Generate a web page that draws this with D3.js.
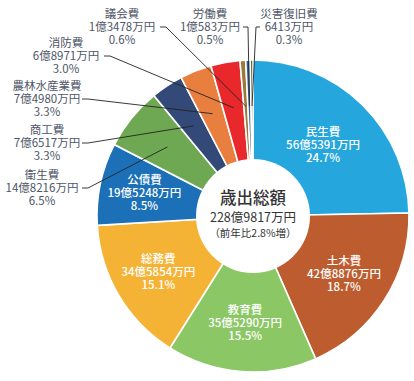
<!DOCTYPE html>
<html><head><meta charset="utf-8">
<script src="https://cdn.jsdelivr.net/npm/d3@7"></script>
<style>body{margin:0;background:#fff;} svg{display:block;} text{font-family:"Noto Sans CJK JP","Noto Sans",sans-serif;}</style>
</head><body><svg id="c" width="414" height="381"></svg>
<script>
const categories = ["民生費","土木費","教育費","総務費","公債費","衛生費","商工費","農林水産業費","消防費","議会費","労働費","災害復旧費"];
const amounts = ["56億5391万円","42億8876万円","35億5290万円","34億5854万円","19億5248万円","14億8216万円","7億6517万円","7億4980万円","6億8971万円","1億3478万円","1億583万円","6413万円"];
const values = [565391,428876,355290,345854,195248,148216,76517,74980,68971,13478,10583,6413];
const percents = ["24.7%","18.7%","15.5%","15.1%","8.5%","6.5%","3.3%","3.3%","3.0%","0.6%","0.5%","0.3%"];
const colors = ["#25a6dd","#bd5d2f","#8bc765","#f5b336","#1b70b7","#6fa853","#334a78","#e97f3f","#e9282c","#9a7a3b","#3a5f97","#3c5a2c"];
const centerTitle = "歳出総額";
const centerTotal = "228億9817万円";
const centerNote = "（前年比2.8%増）";

const svg = d3.select("#c");
const cx = 253, cy = 216, R = 156, r0 = 57;
const g = svg.append("g").attr("transform",`translate(${cx},${cy})`);
const data = categories.map((c,i)=>({name:c, amt:amounts[i], v:values[i], pct:percents[i], col:colors[i], i}));
const pie = d3.pie().value(d=>d.v).sort(null);
const arcs = pie(data);
const arc = d3.arc().innerRadius(0).outerRadius(R);
g.selectAll("path.s").data(arcs).join("path").attr("class","s")
  .attr("d",arc).attr("fill",d=>d.data.col).attr("stroke","#fff").attr("stroke-width",1.6);

// inner labels
const inside = [0,1,2,3,4];
const labelR = [100,108,107,110,111];
inside.forEach((idx,k)=>{
  const a = arcs[idx]; const m=(a.startAngle+a.endAngle)/2;
  const x = labelR[k]*Math.sin(m), y = -labelR[k]*Math.cos(m);
  const t = g.append("text").attr("text-anchor","middle").attr("fill","#fff").attr("font-size",11.5).attr("font-weight",500);
  [a.data.name,a.data.amt,a.data.pct].forEach((s,j)=>{
    t.append("tspan").attr("x",x).attr("y",y+(j-1)*13+4).text(s);
  });
});

// center circle
g.append("circle").attr("r",r0).attr("fill","#fff");
g.append("text").attr("text-anchor","middle").attr("y",-12).attr("font-size",16.5).attr("fill","#333").attr("font-weight",500).text(centerTitle);
g.append("text").attr("text-anchor","middle").attr("y",6).attr("font-size",12.5).attr("fill","#333").text(centerTotal);
g.append("text").attr("text-anchor","middle").attr("y",21).attr("font-size",10.5).attr("fill","#333").text(centerNote);

// outside labels with leader lines (absolute positions)
const outside = [
  {idx:5, x:42, y:188, lr:110, pts:[[82,188],[88,188]]},
  {idx:6, x:47, y:143, lr:108, pts:[[82,143],[88,143]]},
  {idx:7, x:47, y:99, lr:110, pts:[[82,99],[88,99]]},
  {idx:8, x:66, y:56, lr:110, pts:[[104,56],[110,56]]},
  {idx:9, x:122, y:27, lr:110, pts:[[160,27],[166,27]]},
  {idx:10, x:210, y:27, lr:110, pts:[[243,27],[248,27]]},
  {idx:11, x:289, y:27, lr:110, pts:[[260,27],[256,27]]}
];
outside.forEach(o=>{
  const a = arcs[o.idx]; const m=(a.startAngle+a.endAngle)/2;
  const ex = cx + o.lr*Math.sin(m), ey = cy - o.lr*Math.cos(m);
  const p = o.pts.concat([[ex,ey]]);
  svg.append("path").attr("d",d3.line()(p)).attr("fill","none").attr("stroke","#222").attr("stroke-width",0.9);
  const t = svg.append("text").attr("text-anchor","middle").attr("fill","#4e5668").attr("font-size",11.5);
  [a.data.name,a.data.amt,a.data.pct].forEach((s,j)=>{
    t.append("tspan").attr("x",o.x).attr("y",o.y+(j-1)*13+4).text(s);
  });
});
</script></body></html>
